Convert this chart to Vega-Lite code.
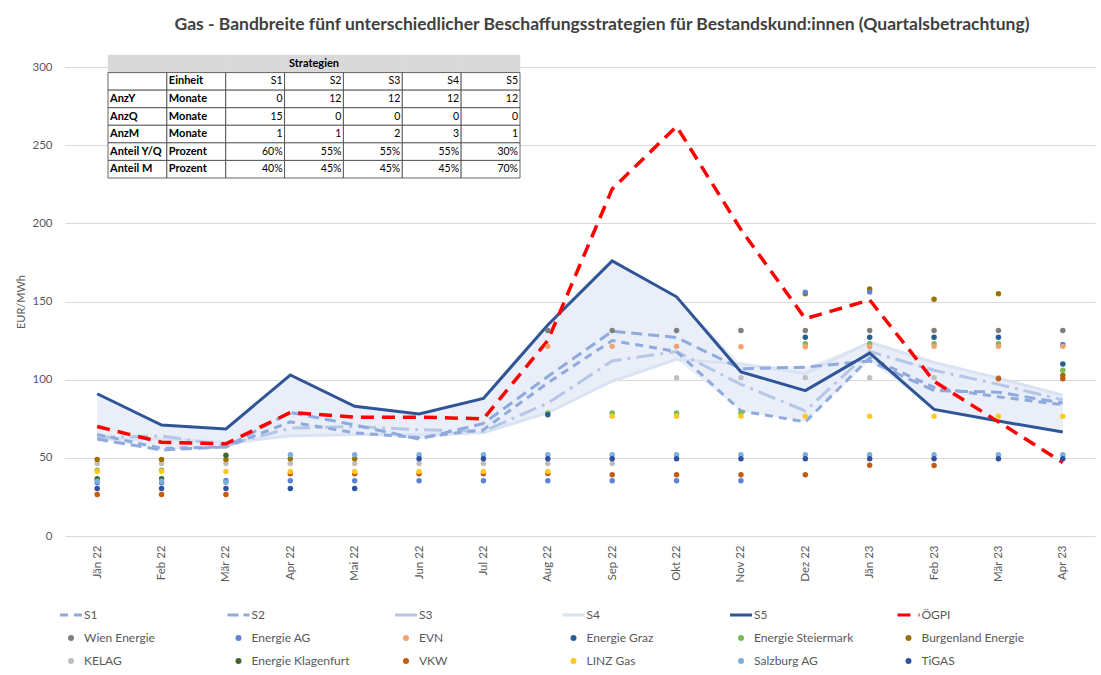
{
  "$schema": "https://vega.github.io/schema/vega-lite/v6.json",
  "autosize": {"type": "none"},
  "width": 1030,
  "height": 469,
  "padding": {"left": 65, "top": 67, "right": 6, "bottom": 139},
  "background": "white",
  "title": {"text": "Gas - Bandbreite fünf unterschiedlicher Beschaffungsstrategien für Bestandskund:innen (Quartalsbetrachtung)", "anchor": "middle", "frame": "group", "dx": 22, "offset": 21, "fontSize": 17.5, "font": "Lato", "fontWeight": "bold", "color": "#404040"},
  "config": {
    "view": {"stroke": null},
    "font": "Lato",
    "legend": {"labelFont": "Lato", "labelFontSize": 12, "labelColor": "#595959"}
  },
  "datasets": {
    "series": [
      {"m":"Jän 22","n":"S1","v":65},{"m":"Feb 22","n":"S1","v":56},{"m":"Mär 22","n":"S1","v":57},{"m":"Apr 22","n":"S1","v":73},{"m":"Mai 22","n":"S1","v":66},{"m":"Jun 22","n":"S1","v":63},{"m":"Jul 22","n":"S1","v":68},{"m":"Aug 22","n":"S1","v":98},{"m":"Sep 22","n":"S1","v":125},{"m":"Okt 22","n":"S1","v":118},{"m":"Nov 22","n":"S1","v":80},{"m":"Dez 22","n":"S1","v":73},{"m":"Jän 23","n":"S1","v":114},{"m":"Feb 23","n":"S1","v":95},{"m":"Mär 23","n":"S1","v":89},{"m":"Apr 23","n":"S1","v":84},
      {"m":"Jän 22","n":"S2","v":62},{"m":"Feb 22","n":"S2","v":55},{"m":"Mär 22","n":"S2","v":57},{"m":"Apr 22","n":"S2","v":79},{"m":"Mai 22","n":"S2","v":71},{"m":"Jun 22","n":"S2","v":62},{"m":"Jul 22","n":"S2","v":72},{"m":"Aug 22","n":"S2","v":102},{"m":"Sep 22","n":"S2","v":131},{"m":"Okt 22","n":"S2","v":127},{"m":"Nov 22","n":"S2","v":107},{"m":"Dez 22","n":"S2","v":108},{"m":"Jän 23","n":"S2","v":112},{"m":"Feb 23","n":"S2","v":93},{"m":"Mär 23","n":"S2","v":92},{"m":"Apr 23","n":"S2","v":85},
      {"m":"Jän 22","n":"S3","v":63},{"m":"Feb 22","n":"S3","v":64},{"m":"Mär 22","n":"S3","v":58},{"m":"Apr 22","n":"S3","v":69},{"m":"Mai 22","n":"S3","v":70},{"m":"Jun 22","n":"S3","v":68},{"m":"Jul 22","n":"S3","v":67},{"m":"Aug 22","n":"S3","v":85},{"m":"Sep 22","n":"S3","v":112},{"m":"Okt 22","n":"S3","v":118},{"m":"Nov 22","n":"S3","v":97},{"m":"Dez 22","n":"S3","v":80},{"m":"Jän 23","n":"S3","v":118},{"m":"Feb 23","n":"S3","v":106},{"m":"Mär 23","n":"S3","v":97},{"m":"Apr 23","n":"S3","v":87},
      {"m":"Jän 22","n":"S4","v":62},{"m":"Feb 22","n":"S4","v":62},{"m":"Mär 22","n":"S4","v":60},{"m":"Apr 22","n":"S4","v":64},{"m":"Mai 22","n":"S4","v":65},{"m":"Jun 22","n":"S4","v":65},{"m":"Jul 22","n":"S4","v":66},{"m":"Aug 22","n":"S4","v":79},{"m":"Sep 22","n":"S4","v":99},{"m":"Okt 22","n":"S4","v":113},{"m":"Nov 22","n":"S4","v":110},{"m":"Dez 22","n":"S4","v":104},{"m":"Jän 23","n":"S4","v":124},{"m":"Feb 23","n":"S4","v":111},{"m":"Mär 23","n":"S4","v":101},{"m":"Apr 23","n":"S4","v":90},
      {"m":"Jän 22","n":"S5","v":91},{"m":"Feb 22","n":"S5","v":71},{"m":"Mär 22","n":"S5","v":68.5},{"m":"Apr 22","n":"S5","v":103},{"m":"Mai 22","n":"S5","v":83},{"m":"Jun 22","n":"S5","v":78},{"m":"Jul 22","n":"S5","v":88},{"m":"Aug 22","n":"S5","v":135},{"m":"Sep 22","n":"S5","v":176},{"m":"Okt 22","n":"S5","v":153},{"m":"Nov 22","n":"S5","v":105},{"m":"Dez 22","n":"S5","v":93},{"m":"Jän 23","n":"S5","v":117},{"m":"Feb 23","n":"S5","v":81},{"m":"Mär 23","n":"S5","v":73.5},{"m":"Apr 23","n":"S5","v":66.5},
      {"m":"Jän 22","n":"ÖGPI","v":70},{"m":"Feb 22","n":"ÖGPI","v":60},{"m":"Mär 22","n":"ÖGPI","v":59},{"m":"Apr 22","n":"ÖGPI","v":79},{"m":"Mai 22","n":"ÖGPI","v":76},{"m":"Jun 22","n":"ÖGPI","v":76},{"m":"Jul 22","n":"ÖGPI","v":75},{"m":"Aug 22","n":"ÖGPI","v":125},{"m":"Sep 22","n":"ÖGPI","v":222},{"m":"Okt 22","n":"ÖGPI","v":262},{"m":"Nov 22","n":"ÖGPI","v":196},{"m":"Dez 22","n":"ÖGPI","v":139},{"m":"Jän 23","n":"ÖGPI","v":151},{"m":"Feb 23","n":"ÖGPI","v":99},{"m":"Mär 23","n":"ÖGPI","v":73},{"m":"Apr 23","n":"ÖGPI","v":47}
    ],
    "points": [
      {"m":"Jän 22","n":"KELAG","v":46.4},{"m":"Feb 22","n":"KELAG","v":46.4},{"m":"Mär 22","n":"KELAG","v":46.4},{"m":"Apr 22","n":"KELAG","v":46.4},{"m":"Mai 22","n":"KELAG","v":46.4},{"m":"Jun 22","n":"KELAG","v":46.4},{"m":"Jul 22","n":"KELAG","v":46.4},{"m":"Aug 22","n":"KELAG","v":46.4},{"m":"Sep 22","n":"KELAG","v":46.4},{"m":"Okt 22","n":"KELAG","v":101.3},{"m":"Nov 22","n":"KELAG","v":101.3},{"m":"Dez 22","n":"KELAG","v":101.3},{"m":"Jän 23","n":"KELAG","v":101.3},{"m":"Feb 23","n":"KELAG","v":101.3},{"m":"Mär 23","n":"KELAG","v":101.3},
      {"m":"Jän 22","n":"Burgenland Energie","v":48.9},{"m":"Feb 22","n":"Burgenland Energie","v":48.9},{"m":"Mär 22","n":"Burgenland Energie","v":48.9},{"m":"Apr 22","n":"Burgenland Energie","v":49.4},{"m":"Mai 22","n":"Burgenland Energie","v":49.4},{"m":"Dez 22","n":"Burgenland Energie","v":155},{"m":"Jän 23","n":"Burgenland Energie","v":158},{"m":"Feb 23","n":"Burgenland Energie","v":151.5},{"m":"Mär 23","n":"Burgenland Energie","v":155},{"m":"Apr 23","n":"Burgenland Energie","v":102.8},
      {"m":"Jän 22","n":"VKW","v":26.5},{"m":"Feb 22","n":"VKW","v":26.5},{"m":"Mär 22","n":"VKW","v":26.5},{"m":"Apr 22","n":"VKW","v":39.8},{"m":"Mai 22","n":"VKW","v":39.8},{"m":"Jun 22","n":"VKW","v":39.8},{"m":"Jul 22","n":"VKW","v":39.8},{"m":"Aug 22","n":"VKW","v":40},{"m":"Sep 22","n":"VKW","v":39.2},{"m":"Okt 22","n":"VKW","v":39.2},{"m":"Nov 22","n":"VKW","v":39.2},{"m":"Dez 22","n":"VKW","v":39.2},{"m":"Jän 23","n":"VKW","v":45.3},{"m":"Feb 23","n":"VKW","v":45.1},{"m":"Mär 23","n":"VKW","v":100.6},{"m":"Apr 23","n":"VKW","v":100.6},
      {"m":"Jän 22","n":"Energie Steiermark","v":42},{"m":"Feb 22","n":"Energie Steiermark","v":42},{"m":"Aug 22","n":"Energie Steiermark","v":78.7},{"m":"Sep 22","n":"Energie Steiermark","v":78.7},{"m":"Okt 22","n":"Energie Steiermark","v":78.7},{"m":"Nov 22","n":"Energie Steiermark","v":78.7},{"m":"Dez 22","n":"Energie Steiermark","v":123},{"m":"Jän 23","n":"Energie Steiermark","v":123},{"m":"Feb 23","n":"Energie Steiermark","v":123},{"m":"Mär 23","n":"Energie Steiermark","v":123},{"m":"Apr 23","n":"Energie Steiermark","v":106},
      {"m":"Jän 22","n":"LINZ Gas","v":41.3},{"m":"Feb 22","n":"LINZ Gas","v":41.3},{"m":"Mär 22","n":"LINZ Gas","v":41.3},{"m":"Apr 22","n":"LINZ Gas","v":41.3},{"m":"Mai 22","n":"LINZ Gas","v":41.3},{"m":"Jun 22","n":"LINZ Gas","v":41.3},{"m":"Jul 22","n":"LINZ Gas","v":41.3},{"m":"Aug 22","n":"LINZ Gas","v":41.3},{"m":"Sep 22","n":"LINZ Gas","v":76.6},{"m":"Okt 22","n":"LINZ Gas","v":76.6},{"m":"Nov 22","n":"LINZ Gas","v":76.6},{"m":"Dez 22","n":"LINZ Gas","v":76.6},{"m":"Jän 23","n":"LINZ Gas","v":76.6},{"m":"Feb 23","n":"LINZ Gas","v":76.6},{"m":"Mär 23","n":"LINZ Gas","v":76.6},{"m":"Apr 23","n":"LINZ Gas","v":76.6},
      {"m":"Jän 22","n":"Energie Klagenfurt","v":36.6},{"m":"Feb 22","n":"Energie Klagenfurt","v":36.6},{"m":"Mär 22","n":"Energie Klagenfurt","v":51.7},
      {"m":"Jän 22","n":"Energie AG","v":34},{"m":"Feb 22","n":"Energie AG","v":34},{"m":"Mär 22","n":"Energie AG","v":35.5},{"m":"Apr 22","n":"Energie AG","v":35.3},{"m":"Mai 22","n":"Energie AG","v":35.3},{"m":"Jun 22","n":"Energie AG","v":35.3},{"m":"Jul 22","n":"Energie AG","v":35.3},{"m":"Aug 22","n":"Energie AG","v":35.3},{"m":"Sep 22","n":"Energie AG","v":35.3},{"m":"Okt 22","n":"Energie AG","v":35.3},{"m":"Nov 22","n":"Energie AG","v":35.3},{"m":"Dez 22","n":"Energie AG","v":156},{"m":"Jän 23","n":"Energie AG","v":156},{"m":"Apr 23","n":"Energie AG","v":122.5},
      {"m":"Jän 22","n":"Salzburg AG","v":35},{"m":"Feb 22","n":"Salzburg AG","v":35},{"m":"Mär 22","n":"Salzburg AG","v":34.3},{"m":"Apr 22","n":"Salzburg AG","v":52},{"m":"Mai 22","n":"Salzburg AG","v":52},{"m":"Jun 22","n":"Salzburg AG","v":52},{"m":"Jul 22","n":"Salzburg AG","v":52},{"m":"Aug 22","n":"Salzburg AG","v":52},{"m":"Sep 22","n":"Salzburg AG","v":52},{"m":"Okt 22","n":"Salzburg AG","v":52},{"m":"Nov 22","n":"Salzburg AG","v":52},{"m":"Dez 22","n":"Salzburg AG","v":52},{"m":"Jän 23","n":"Salzburg AG","v":52},{"m":"Feb 23","n":"Salzburg AG","v":52},{"m":"Mär 23","n":"Salzburg AG","v":52},{"m":"Apr 23","n":"Salzburg AG","v":52},
      {"m":"Jän 22","n":"TiGAS","v":30.4},{"m":"Feb 22","n":"TiGAS","v":30.4},{"m":"Mär 22","n":"TiGAS","v":30.4},{"m":"Apr 22","n":"TiGAS","v":30.4},{"m":"Mai 22","n":"TiGAS","v":30.4},{"m":"Jun 22","n":"TiGAS","v":49.4},{"m":"Jul 22","n":"TiGAS","v":49.4},{"m":"Aug 22","n":"TiGAS","v":49.4},{"m":"Sep 22","n":"TiGAS","v":49.4},{"m":"Okt 22","n":"TiGAS","v":49.4},{"m":"Nov 22","n":"TiGAS","v":49.4},{"m":"Dez 22","n":"TiGAS","v":49.4},{"m":"Jän 23","n":"TiGAS","v":49.4},{"m":"Feb 23","n":"TiGAS","v":49.4},{"m":"Mär 23","n":"TiGAS","v":49.4},{"m":"Apr 23","n":"TiGAS","v":49.4},
      {"m":"Aug 22","n":"Energie Graz","v":77.5},{"m":"Dez 22","n":"Energie Graz","v":127.2},{"m":"Jän 23","n":"Energie Graz","v":127.2},{"m":"Feb 23","n":"Energie Graz","v":127.2},{"m":"Mär 23","n":"Energie Graz","v":127.2},{"m":"Apr 23","n":"Energie Graz","v":110},
      {"m":"Aug 22","n":"EVN","v":121.3},{"m":"Sep 22","n":"EVN","v":121.3},{"m":"Okt 22","n":"EVN","v":121.3},{"m":"Nov 22","n":"EVN","v":121},{"m":"Dez 22","n":"EVN","v":121},{"m":"Jän 23","n":"EVN","v":121},{"m":"Feb 23","n":"EVN","v":121.3},{"m":"Mär 23","n":"EVN","v":121.3},{"m":"Apr 23","n":"EVN","v":121.3},
      {"m":"Aug 22","n":"Wien Energie","v":131.5},{"m":"Sep 22","n":"Wien Energie","v":131.5},{"m":"Okt 22","n":"Wien Energie","v":131.5},{"m":"Nov 22","n":"Wien Energie","v":131.5},{"m":"Dez 22","n":"Wien Energie","v":131.5},{"m":"Jän 23","n":"Wien Energie","v":131.5},{"m":"Feb 23","n":"Wien Energie","v":131.5},{"m":"Mär 23","n":"Wien Energie","v":131.5},{"m":"Apr 23","n":"Wien Energie","v":131.5}
    ],
    "cells": [
      {"r":"title","c":"lbl","t":""},{"r":"title","c":"Einheit","t":""},{"r":"title","c":"S1","t":""},{"r":"title","c":"S2","t":"Strategien"},{"r":"title","c":"S3","t":""},{"r":"title","c":"S4","t":""},{"r":"title","c":"S5","t":""},
      {"r":"hdr","c":"lbl","t":""},{"r":"hdr","c":"Einheit","t":"Einheit"},{"r":"hdr","c":"S1","t":"S1"},{"r":"hdr","c":"S2","t":"S2"},{"r":"hdr","c":"S3","t":"S3"},{"r":"hdr","c":"S4","t":"S4"},{"r":"hdr","c":"S5","t":"S5"},
      {"r":"AnzY","c":"lbl","t":"AnzY"},{"r":"AnzY","c":"Einheit","t":"Monate"},{"r":"AnzY","c":"S1","t":"0"},{"r":"AnzY","c":"S2","t":"12"},{"r":"AnzY","c":"S3","t":"12"},{"r":"AnzY","c":"S4","t":"12"},{"r":"AnzY","c":"S5","t":"12"},
      {"r":"AnzQ","c":"lbl","t":"AnzQ"},{"r":"AnzQ","c":"Einheit","t":"Monate"},{"r":"AnzQ","c":"S1","t":"15"},{"r":"AnzQ","c":"S2","t":"0"},{"r":"AnzQ","c":"S3","t":"0"},{"r":"AnzQ","c":"S4","t":"0"},{"r":"AnzQ","c":"S5","t":"0"},
      {"r":"AnzM","c":"lbl","t":"AnzM"},{"r":"AnzM","c":"Einheit","t":"Monate"},{"r":"AnzM","c":"S1","t":"1"},{"r":"AnzM","c":"S2","t":"1"},{"r":"AnzM","c":"S3","t":"2"},{"r":"AnzM","c":"S4","t":"3"},{"r":"AnzM","c":"S5","t":"1"},
      {"r":"AntYQ","c":"lbl","t":"Anteil Y/Q"},{"r":"AntYQ","c":"Einheit","t":"Prozent"},{"r":"AntYQ","c":"S1","t":"60%"},{"r":"AntYQ","c":"S2","t":"55%"},{"r":"AntYQ","c":"S3","t":"55%"},{"r":"AntYQ","c":"S4","t":"55%"},{"r":"AntYQ","c":"S5","t":"30%"},
      {"r":"AntM","c":"lbl","t":"Anteil M"},{"r":"AntM","c":"Einheit","t":"Prozent"},{"r":"AntM","c":"S1","t":"40%"},{"r":"AntM","c":"S2","t":"45%"},{"r":"AntM","c":"S3","t":"45%"},{"r":"AntM","c":"S4","t":"45%"},{"r":"AntM","c":"S5","t":"70%"}
    ]
  },
  "resolve": {"scale": {"x": "independent", "y": "independent"}},
  "layer": [
    {
      "encoding": {
        "x": {"field": "m", "type": "ordinal", "sort": ["Jän 22","Feb 22","Mär 22","Apr 22","Mai 22","Jun 22","Jul 22","Aug 22","Sep 22","Okt 22","Nov 22","Dez 22","Jän 23","Feb 23","Mär 23","Apr 23"], "scale": {"type": "point", "padding": 0.5}, "axis": {"title": null, "labelAngle": -90, "labelPadding": 9, "ticks": false, "domain": false, "grid": false, "labelFontSize": 11.5, "labelColor": "#595959", "labelFont": "Lato"}},
        "y": {"field": "v", "type": "quantitative", "title": "EUR/MWh", "scale": {"domain": [0, 300], "nice": false}, "axis": {"values": [0,50,100,150,200,250,300], "grid": true, "gridColor": "#d9d9d9", "domain": false, "ticks": false, "labelPadding": 13, "labelFontSize": 11.5, "labelColor": "#595959", "labelFont": "Lato", "titleFontSize": 11, "titleFontWeight": "normal", "titleColor": "#595959", "titleFont": "Lato", "titlePadding": 5}}
      },
      "layer": [
        {
          "data": {"name": "series"},
          "transform": [{"filter": "datum.n != 'ÖGPI'"}],
          "mark": {"type": "area", "color": "#e9eef8", "opacity": 1},
          "encoding": {
            "y": {"aggregate": "min", "field": "v", "type": "quantitative", "title": "EUR/MWh"},
            "y2": {"aggregate": "max", "field": "v"}
          }
        },
        {
          "data": {"name": "series"},
          "transform": [{"filter": "datum.n == 'S4'"}],
          "mark": {"type": "line", "strokeWidth": 3},
          "encoding": {"color": {"field": "n", "type": "nominal",
            "scale": {"domain": ["S1","S2","S3","S4","S5","ÖGPI","Wien Energie","Energie AG","EVN","Energie Graz","Energie Steiermark","Burgenland Energie","KELAG","Energie Klagenfurt","VKW","LINZ Gas","Salzburg AG","TiGAS"],
                      "range": ["#8faadc","#8faadc","#b4c7e7","#dae3f3","#2f5597","#ff0000","#7f7f7f","#5b84d2","#f4a26a","#255e91","#7cb957","#9a7200","#bfbfbf","#43682b","#c55a11","#ffc824","#7cafdd","#2f52a0"]},
            "legend": {"title": null, "orient": "none", "legendX": 0, "legendY": 542, "direction": "horizontal", "columns": 6, "gridAlign": "all", "columnPadding": 34.5, "rowPadding": 11, "padding": 0, "symbolSize": 484, "labelOffset": 7, "labelFontSize": 12, "labelColor": "#595959", "labelFont": "Lato",
              "encode": {"symbols": {"update": {
                "shape": {"signal": "indexof(['S1','S2','S3','S4','S5','ÖGPI'], datum.value) >= 0 ? 'stroke' : 'circle'"},
                "size": {"signal": "indexof(['S1','S2','S3','S4','S5','ÖGPI'], datum.value) >= 0 ? 484 : 36"},
                "strokeWidth": {"signal": "indexof(['S1','S2','S3','S4','S5','ÖGPI'], datum.value) >= 0 ? 3 : 0"},
                "strokeDash": {"signal": "datum.value == 'S1' ? [8,6] : datum.value == 'S2' ? [11,5] : datum.value == 'ÖGPI' ? [13,8] : [1,0]"},
                "fill": {"signal": "indexof(['S1','S2','S3','S4','S5','ÖGPI'], datum.value) >= 0 ? 'transparent' : scale('color', datum.value)"},
                "stroke": {"signal": "indexof(['S1','S2','S3','S4','S5','ÖGPI'], datum.value) >= 0 ? scale('color', datum.value) : 'transparent'"},
                "opacity": {"value": 1}
              }}}
            }}}
        },
        {
          "data": {"name": "series"},
          "transform": [{"filter": "datum.n == 'S3'"}],
          "mark": {"type": "line", "strokeWidth": 3, "strokeDash": [18,6,3,6]},
          "encoding": {"color": {"field": "n", "type": "nominal"}}
        },
        {
          "data": {"name": "series"},
          "transform": [{"filter": "datum.n == 'S2'"}],
          "mark": {"type": "line", "strokeWidth": 3, "strokeDash": [11,6]},
          "encoding": {"color": {"field": "n", "type": "nominal"}}
        },
        {
          "data": {"name": "series"},
          "transform": [{"filter": "datum.n == 'S1'"}],
          "mark": {"type": "line", "strokeWidth": 3, "strokeDash": [8,6]},
          "encoding": {"color": {"field": "n", "type": "nominal"}}
        },
        {
          "data": {"name": "series"},
          "transform": [{"filter": "datum.n == 'S5'"}],
          "mark": {"type": "line", "strokeWidth": 3},
          "encoding": {"color": {"field": "n", "type": "nominal"}}
        },
        {
          "data": {"name": "series"},
          "transform": [{"filter": "datum.n == 'ÖGPI'"}],
          "mark": {"type": "line", "strokeWidth": 3.5, "strokeDash": [13,8]},
          "encoding": {"color": {"field": "n", "type": "nominal"}}
        },
        {
          "data": {"name": "points"},
          "mark": {"type": "circle", "size": 30, "opacity": 1},
          "encoding": {"color": {"field": "n", "type": "nominal"}}
        }
      ]
    },
    {
      "data": {"name": "cells"},
      "encoding": {
        "x": {"field": "c", "type": "nominal", "sort": null, "scale": {"type": "band", "domain": ["lbl","Einheit","S1","S2","S3","S4","S5"], "range": [43, 455], "paddingInner": 0, "paddingOuter": 0}, "axis": null},
        "y": {"field": "r", "type": "nominal", "sort": null, "scale": {"type": "band", "domain": ["title","hdr","AnzY","AnzQ","AnzM","AntYQ","AntM"], "range": [-12, 111], "paddingInner": 0, "paddingOuter": 0}, "axis": null}
      },
      "layer": [
        {
          "transform": [{"filter": "datum.r == 'title'"}],
          "mark": {"type": "rect", "fill": "#d9d9d9", "stroke": "#d9d9d9", "strokeWidth": 0.5}
        },
        {
          "transform": [{"filter": "datum.r != 'title'"}],
          "mark": {"type": "rect", "fill": "white", "stroke": "#404040", "strokeWidth": 0.8}
        },
        {
          "transform": [{"filter": "datum.r == 'title' && datum.t != ''"}],
          "mark": {"type": "text", "align": "center", "baseline": "middle", "fontSize": 11, "fontWeight": "bold", "font": "Lato", "color": "#000000"},
          "encoding": {"text": {"field": "t"}}
        },
        {
          "transform": [{"filter": "datum.r != 'title' && (datum.c == 'lbl' || datum.c == 'Einheit')"}],
          "mark": {"type": "text", "align": "left", "baseline": "middle", "dx": 2, "fontSize": 11, "fontWeight": "bold", "font": "Lato", "color": "#000000"},
          "encoding": {
            "x": {"field": "c", "type": "nominal", "bandPosition": 0},
            "text": {"field": "t"}
          }
        },
        {
          "transform": [{"filter": "datum.r != 'title' && datum.c != 'lbl' && datum.c != 'Einheit'"}],
          "mark": {"type": "text", "align": "right", "baseline": "middle", "dx": -2, "fontSize": 10.5, "font": "Lato", "color": "#000000"},
          "encoding": {
            "x": {"field": "c", "type": "nominal", "bandPosition": 1},
            "text": {"field": "t"},
            "fontWeight": {"condition": {"test": "datum.r == 'hdr'", "value": "bold"}, "value": "normal"}
          }
        }
      ]
    }
  ]
}
